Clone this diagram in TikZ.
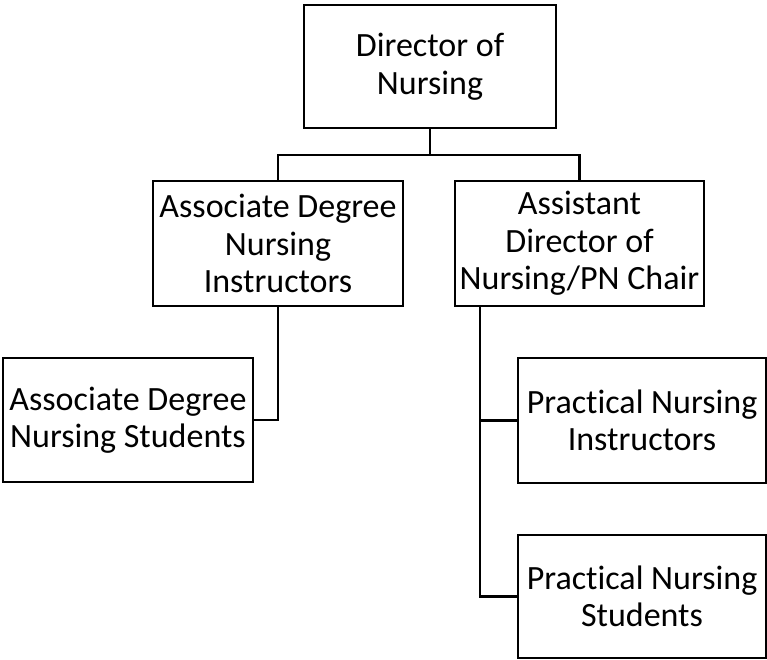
\documentclass[tikz,border=0pt]{standalone}
\usepackage{fontspec}
\setmainfont[Ligatures=NoCommon]{Carlito}
\begin{document}
\begin{tikzpicture}[x=1pt,y=-1pt,
  box/.style={draw=black,line width=2.4pt,inner sep=0pt,align=center,
    font=\fontsize{34}{37.5}\selectfont,text=black},
  link/.style={draw=black,line width=2.4pt}]
\useasboundingbox (0,0) rectangle (767,660);
\node[box,minimum width=252pt,minimum height=123pt] (dir) at (430,66.5) {Director of\\Nursing};
\node[box,minimum width=250pt,minimum height=125pt] (adn) at (278,243.5) {Associate Degree\\Nursing\\Instructors};
\node[box,minimum width=249pt,minimum height=125pt] (asst) at (579.5,243.5) {Assistant\\Director of\\Nursing/PN Chair};
\node[box,minimum width=250pt,minimum height=124pt] (adns) at (128,420) {Associate Degree\\Nursing Students};
\node[box,minimum width=248pt,minimum height=125pt] (pni) at (642,420.5) {Practical Nursing\\Instructors};
\node[box,minimum width=248pt,minimum height=123pt] (pns) at (642,596.5) {Practical Nursing\\Students};
\coordinate (j) at (430,155);
\coordinate (rt) at (480,306);
\draw[link] (dir.south) -- (j);
\draw[link] (adn.north) |- (j) -| (asst.north);
\draw[link] (adn.south) |- (adns.east);
\draw[link] (rt) |- (pns.west);
\draw[link] (rt |- pni.west) -- (pni.west);
\end{tikzpicture}
\end{document}
